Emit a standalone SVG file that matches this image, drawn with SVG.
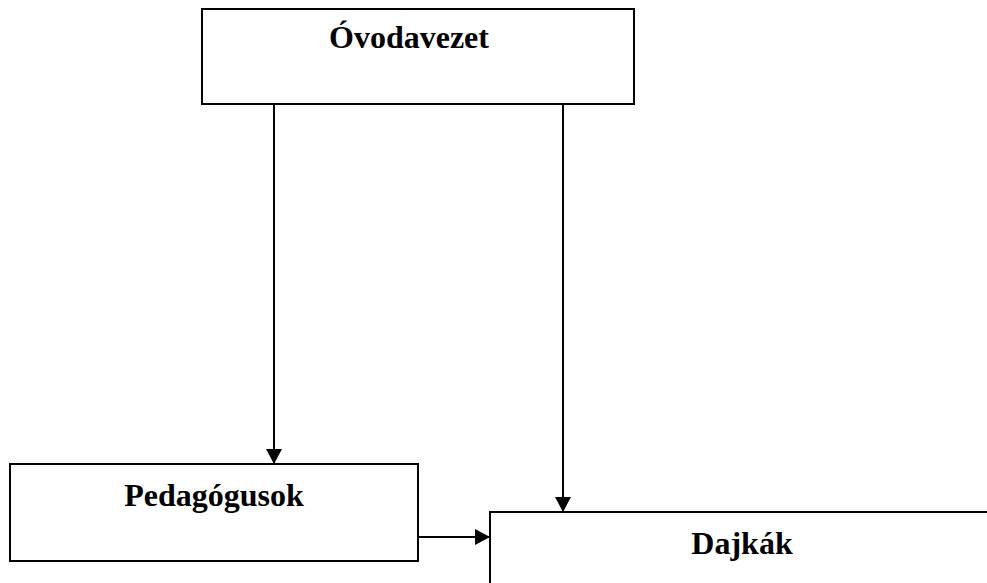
<svg xmlns="http://www.w3.org/2000/svg" width="987" height="583" viewBox="0 0 987 583">
<style>
.box{fill:#fff;stroke:#000;stroke-width:2}
.lbl{font-family:"Liberation Serif","Times New Roman",serif;font-weight:bold;font-size:32px;fill:#000;text-anchor:middle}
.con{stroke:#000;stroke-width:2;fill:none;marker-end:url(#arr)}
</style>
<defs>
<marker id="arr" markerWidth="16" markerHeight="16" refX="15" refY="8" orient="auto" markerUnits="userSpaceOnUse">
<path d="M0,0 L15,8 L0,16 Z" fill="#000"/>
</marker>
</defs>
<rect width="987" height="583" fill="#fff"/>
<g id="node-ovodavezet">
<rect class="box" x="202" y="9" width="432" height="95"/>
<text class="lbl" x="409" y="48">Óvodavezet</text>
</g>
<g id="node-pedagogusok">
<rect class="box" x="10" y="464" width="408" height="97"/>
<text class="lbl" x="214" y="506">Pedagógusok</text>
</g>
<g id="node-dajkak">
<path class="box" d="M490,590 L490,512 L995,512"/>
<text class="lbl" x="742" y="554">Dajkák</text>
</g>
<g id="connectors">
<line class="con" x1="274" y1="104" x2="274" y2="464"/>
<line class="con" x1="563" y1="104" x2="563" y2="512"/>
<line class="con" x1="418" y1="537" x2="490" y2="537"/>
</g>
</svg>
